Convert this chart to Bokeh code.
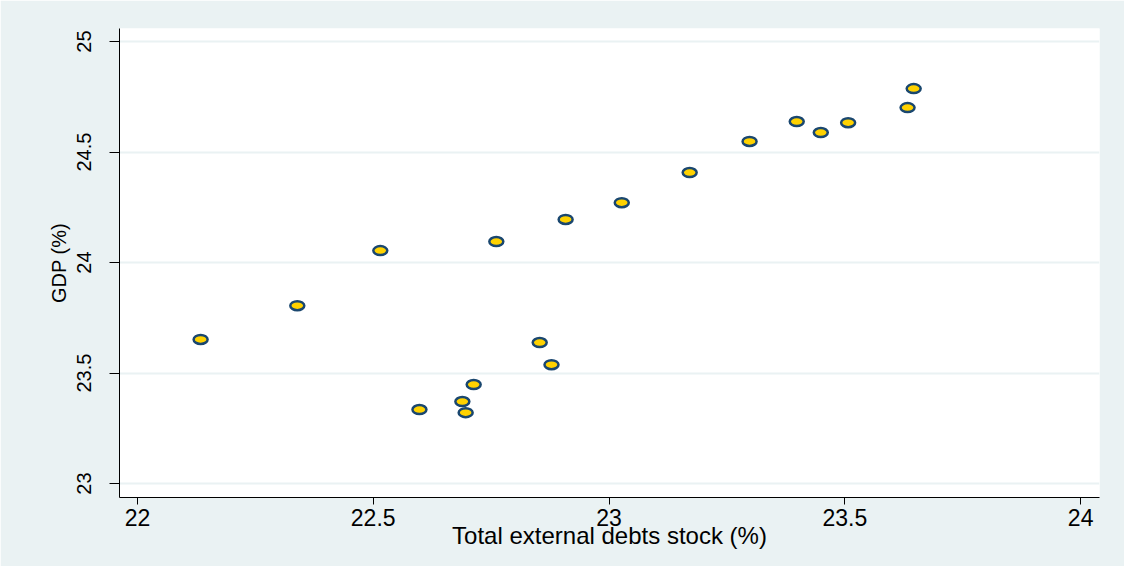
from bokeh.plotting import figure
from bokeh.models import FixedTicker, Range1d
from bokeh.embed import file_html
from bokeh.resources import INLINE

# Data
debt = [22.134, 22.339, 22.515, 22.598, 22.689, 22.696, 22.713, 22.761, 22.853, 22.878,
        22.908, 23.027, 23.171, 23.298, 23.398, 23.449, 23.507, 23.633, 23.646]
gdp = [23.652, 23.805, 24.054, 23.335, 23.371, 23.321, 23.448, 24.095, 23.638, 23.538,
       24.195, 24.271, 24.407, 24.548, 24.638, 24.588, 24.633, 24.701, 24.787]

x_ticks = [22, 22.5, 23, 23.5, 24]
x_labels = ["22", "22.5", "23", "23.5", "24"]
y_ticks = [23, 23.5, 24, 24.5, 25]
y_labels = ["23", "23.5", "24", "24.5", "25"]

BG = "#EAF2F3"
FONT = "Liberation Sans"

p = figure(width=1124, height=566, output_backend="svg", toolbar_location=None,
           x_range=Range1d(21.962, 24.040), y_range=Range1d(22.937, 25.059),
           min_border_left=119, min_border_right=25, min_border_top=28, min_border_bottom=69)

p.background_fill_color = "white"
p.border_fill_color = BG
p.outline_line_color = None

p.xgrid.grid_line_color = None
p.ygrid.grid_line_color = BG
p.ygrid.grid_line_width = 2

# x axis
p.xaxis.ticker = FixedTicker(ticks=x_ticks)
p.xaxis.major_label_overrides = {t: l for t, l in zip(x_ticks, x_labels)}
p.xaxis.axis_label = "Total external debts stock (%)"
p.xaxis.axis_label_text_font = FONT
p.xaxis.axis_label_text_font_size = "24px"
p.xaxis.axis_label_text_font_style = "normal"
p.xaxis.axis_label_text_color = "black"
p.xaxis.axis_label_standoff = -7
p.xaxis.major_label_text_font = FONT
p.xaxis.major_label_text_font_size = "23px"
p.xaxis.major_label_text_color = "black"
p.xaxis.major_label_standoff = 4
p.xaxis.major_tick_out = 7
p.xaxis.major_tick_in = 0
p.xaxis.minor_tick_line_color = None
p.xaxis.axis_line_color = "black"
p.xaxis.major_tick_line_color = "black"

# y axis
p.yaxis.ticker = FixedTicker(ticks=y_ticks)
p.yaxis.major_label_overrides = {t: l for t, l in zip(y_ticks, y_labels)}
p.yaxis.major_label_orientation = "vertical"
p.yaxis.axis_label = "GDP (%)"
p.yaxis.axis_label_text_font = FONT
p.yaxis.axis_label_text_font_size = "20px"
p.yaxis.axis_label_text_font_style = "normal"
p.yaxis.axis_label_text_color = "black"
p.yaxis.axis_label_standoff = 5
p.yaxis.major_label_text_font = FONT
p.yaxis.major_label_text_font_size = "20px"
p.yaxis.major_label_text_color = "black"
p.yaxis.major_label_standoff = 18
p.yaxis.major_tick_out = 10
p.yaxis.major_tick_in = 0
p.yaxis.minor_tick_line_color = None
p.yaxis.axis_line_color = "black"
p.yaxis.major_tick_line_color = "black"

p.ellipse(x=debt, y=gdp, width=14, height=9, width_units="screen", height_units="screen",
          fill_color="#FFD200", line_color="#1A476F", line_width=2.5)

open("out.html", "w").write(file_html(p, INLINE))
